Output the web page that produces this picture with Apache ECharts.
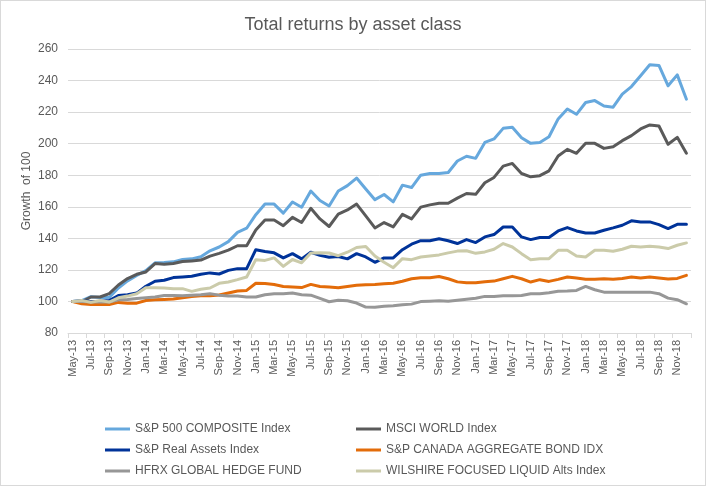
<!DOCTYPE html>
<html>
<head>
<meta charset="utf-8">
<script src="https://cdn.jsdelivr.net/npm/echarts@6/dist/echarts.min.js"></script>
<style>
html,body{margin:0;padding:0;background:#fff;}
#chart{width:704px;height:484px;border:1px solid #D9D9D9;}
</style>
</head>
<body>
<div id="chart"></div>
<script>
const months = ["May-13","Jun-13","Jul-13","Aug-13","Sep-13","Oct-13","Nov-13","Dec-13",
"Jan-14","Feb-14","Mar-14","Apr-14","May-14","Jun-14","Jul-14","Aug-14","Sep-14","Oct-14","Nov-14","Dec-14",
"Jan-15","Feb-15","Mar-15","Apr-15","May-15","Jun-15","Jul-15","Aug-15","Sep-15","Oct-15","Nov-15","Dec-15",
"Jan-16","Feb-16","Mar-16","Apr-16","May-16","Jun-16","Jul-16","Aug-16","Sep-16","Oct-16","Nov-16","Dec-16",
"Jan-17","Feb-17","Mar-17","Apr-17","May-17","Jun-17","Jul-17","Aug-17","Sep-17","Oct-17","Nov-17","Dec-17",
"Jan-18","Feb-18","Mar-18","Apr-18","May-18","Jun-18","Jul-18","Aug-18","Sep-18","Oct-18","Nov-18","Dec-18"];

const sp500 = [100,100.5,103,102.5,102.5,108.5,113,116.5,119.5,124.5,124.7,125.1,126.6,127,128.3,132.1,134.5,137.9,143.8,146.4,
155,161.7,161.7,156,163,159.7,170,164,160.5,170,173.4,178.2,171.3,164.5,167.8,163.1,173.7,172.2,180,181.1,181.1,181.7,189,192,
190.7,200.8,203,209.7,210.4,203.8,200.2,200.8,204.4,215.7,222,218.6,226.1,227.3,223.9,223.1,231.4,236.2,243,250,249.6,236.7,243.6,228.2];

const msci = [100,99.8,102.8,102.8,104.9,110.4,114.5,117.2,118.7,124,123.6,124,125.3,125.7,126.2,128.7,130.5,132.5,135.3,135.3,
145.3,151.6,151.6,148,153.3,150,159,152.3,147.5,155.3,158,161.7,154.2,146.6,150,147.2,155.2,152.3,159.8,161.2,162.2,162.2,165.5,168.4,
167.9,175.2,178.6,185.8,187.5,181.1,179,179.7,182.8,192.2,196.4,193.9,200.2,200.2,197,198.1,201.9,205.1,209.3,211.9,211.2,199.6,204,193.9];

const realAssets = [100,100.4,100,100.2,100.6,103.8,104.3,105.3,109.6,112.8,113.4,115.1,115.5,116,117.2,118.1,117.4,119.7,120.8,120.8,
132.8,131.6,130.8,127.6,130.3,127,131.2,129.2,128,128.5,127,130.3,128.2,124.8,127.6,127.6,132.8,136.3,138.5,138.5,139.7,138.5,136.7,139.2,
137.3,140.9,142.4,147.2,147.2,140.9,139.2,140.5,140.5,144.7,146.8,144.7,143.4,143.4,145.1,146.6,148.3,151.1,150.4,150.4,148.7,146.2,148.9,148.9];

const canadaBond = [100,98.5,98.1,98.1,98.1,99.4,98.9,98.9,100.6,101.1,101.3,101.5,102.3,103.2,103.6,103.6,104.1,105.3,106.6,107,
111.5,111.4,110.7,109.5,109.1,108.8,110.8,109.5,109.1,108.7,109.5,110.2,110.6,110.8,111.2,111.5,112.8,114.4,115,115,115.8,114.4,112.4,111.8,
111.8,112.5,112.9,114.4,115.9,114.4,112.3,113.8,112.7,114,115.5,114.8,114,114,114.4,114,114.6,115.5,114.8,115.5,114.8,114.2,114.6,116.5];

const hfrx = [100,100,99.6,99.6,99.6,101.1,101.3,101.9,102.3,102.8,103.8,103.8,103.6,104,104.3,104.9,104,103.4,103.4,102.8,
102.8,104.2,104.9,104.9,105.3,104.3,104,101.9,99.8,100.8,100.4,99,96.4,96.3,97,97.3,97.9,98.3,99.9,100.1,100.4,100.1,100.8,101.4,
102,103.2,103.2,103.6,103.6,103.8,104.9,104.9,105.5,106.4,106.6,107,109.5,107.4,105.9,105.9,105.9,105.9,105.9,105.9,104.9,102.1,101.1,98.5];

const wilshire = [100,100.6,99.4,100.6,99.6,102.3,103.4,104.9,108.7,108.7,108.5,108.1,108.1,106.4,107.7,108.5,111.5,112.3,113.8,115.5,
126.5,126,127.6,122.2,126.6,124.5,130.7,130.8,130.7,129,131.2,134.2,134.8,128.8,124.8,121.4,127.1,126.5,128.2,128.8,129.5,130.8,131.9,132.1,
130.5,131.4,133.1,136.7,134.5,130.3,126.5,127.1,127.1,132.4,132.4,128.8,128.2,132.4,132.4,131.8,133.1,135,134.5,135,134.5,133.5,135.6,137.1];

const names = ["S&P 500 COMPOSITE Index","MSCI WORLD Index","S&P Real Assets Index","S&P CANADA AGGREGATE BOND IDX","HFRX GLOBAL HEDGE FUND","WILSHIRE FOCUSED LIQUID Alts Index"];
const colors = ["#66A8DD","#5A5A5A","#003399","#E36C0A","#979797","#CBCBAA"];
const seriesData = [sp500, msci, realAssets, canadaBond, hfrx, wilshire];

const chart = echarts.init(document.getElementById('chart'), null, {renderer:'canvas'});
const font = "'Liberation Sans', Arial, sans-serif";
const legendCommon = {
  orient:'vertical', icon:'rect', itemWidth:25, itemHeight:3, itemGap:9,
  textStyle:{fontFamily:font, fontSize:12, color:'#595959'}, selectedMode:false
};
chart.setOption({
  animation:false,
  backgroundColor:'#fff',
  title:{text:'Total returns by asset class', left:'center', top:10,
    textStyle:{fontFamily:font, fontSize:18, fontWeight:'normal', color:'#595959'}},
  legend:[
    Object.assign({left:99, top:417, data:[names[0],names[2],names[4]]}, legendCommon),
    Object.assign({left:350, top:417, data:[names[1],names[3],names[5]]}, legendCommon)
  ],
  grid:{left:67, right:14, top:48, bottom:152, containLabel:false},
  xAxis:{type:'category', data:months, boundaryGap:true,
    axisLine:{lineStyle:{color:'#D9D9D9'}},
    axisTick:{show:true, interval:1, length:5, lineStyle:{color:'#D9D9D9'}},
    axisLabel:{interval:1, rotate:90, fontFamily:font, fontSize:11, color:'#595959', margin:7},
    splitLine:{show:false}},
  yAxis:{type:'value', min:80, max:260, interval:20,
    name:'Growth  of 100', nameLocation:'middle', nameGap:35, nameMoveOverlap:false,
    nameTextStyle:{fontFamily:font, fontSize:12, color:'#595959'},
    axisLine:{show:false}, axisTick:{show:false},
    axisLabel:{fontFamily:font, fontSize:12, color:'#595959', margin:10},
    splitLine:{lineStyle:{color:'#D9D9D9', width:1}}},
  series: seriesData.map((d,k)=>({
    name:names[k], type:'line', data:d, symbol:'none', smooth:false,
    color:colors[k], lineStyle:{width:3, color:colors[k], join:'round', cap:'round'}
  }))
});
</script>
</body>
</html>
